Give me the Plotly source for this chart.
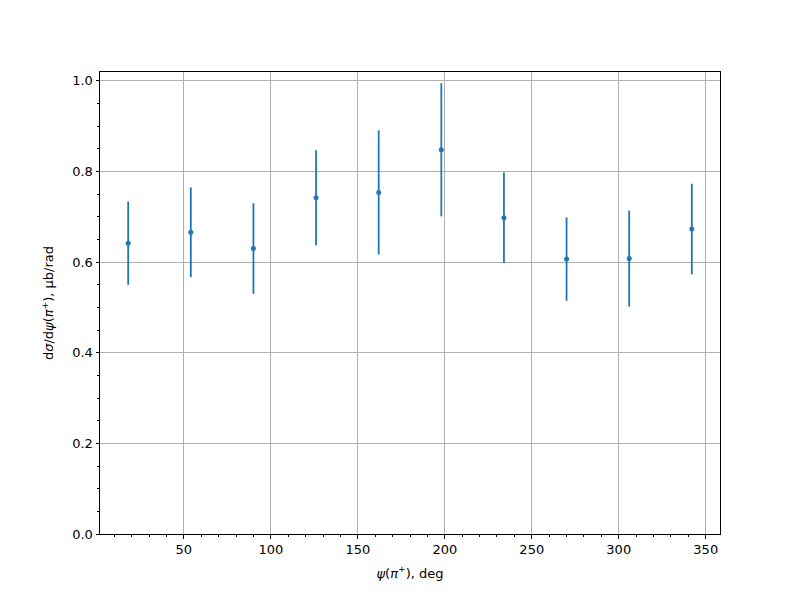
import plotly.graph_objects as go

psi_deg = [18, 54, 90, 126, 162, 198, 234, 270, 306, 342]
dsigma = [0.642, 0.666, 0.630, 0.742, 0.754, 0.848, 0.698, 0.607, 0.608, 0.673]
dsigma_err = [0.092, 0.099, 0.100, 0.105, 0.137, 0.147, 0.100, 0.092, 0.106, 0.100]

x_ticks = [50, 100, 150, 200, 250, 300, 350]
y_ticks = [0.0, 0.2, 0.4, 0.6, 0.8, 1.0]

blue = "#1f77b4"
font_family = "DejaVu Sans"

fig = go.Figure()
fig.add_trace(go.Scatter(
    x=psi_deg, y=dsigma, mode="markers",
    marker=dict(color=blue, size=5),
    error_y=dict(type="data", array=dsigma_err, visible=True,
                 color=blue, thickness=1.8, width=0),
    showlegend=False,
))

axis_common = dict(
    showline=True, linecolor="black", linewidth=1, mirror=True,
    ticks="outside", ticklen=3.5, tickwidth=1, tickcolor="black",
    showgrid=True, gridcolor="#b0b0b0", gridwidth=1,
    zeroline=False,
    tickfont=dict(family=font_family, size=13, color="black"),
)

fig.update_xaxes(
    **axis_common,
    range=[1.8, 358.2],
    tickvals=x_ticks,
    ticktext=[str(v) for v in x_ticks],
    minor=dict(dtick=10, tick0=0, ticks="outside", ticklen=2, tickcolor="black", showgrid=False),
    title=dict(text="<i>ψ</i>(<i>π</i><sup>+</sup>), deg",
               font=dict(family=font_family, size=13, color="black"), standoff=12),
)
fig.update_yaxes(
    **axis_common,
    range=[0, 1.0197],
    tickvals=y_ticks,
    ticktext=[f"{v:.1f}" for v in y_ticks],
    minor=dict(dtick=0.05, tick0=0, ticks="outside", ticklen=2, tickcolor="black", showgrid=False),
    title=dict(text="d<i>σ</i>/d<i>ψ</i>(<i>π</i><sup>+</sup>), μb/rad",
               font=dict(family=font_family, size=13, color="black"), standoff=15),
)

fig.update_layout(
    width=800, height=600,
    margin=dict(l=92, r=88, t=64, b=74),
    paper_bgcolor="white", plot_bgcolor="white",
    font=dict(family=font_family, size=13, color="black"),
)

fig.write_html("out.html")
